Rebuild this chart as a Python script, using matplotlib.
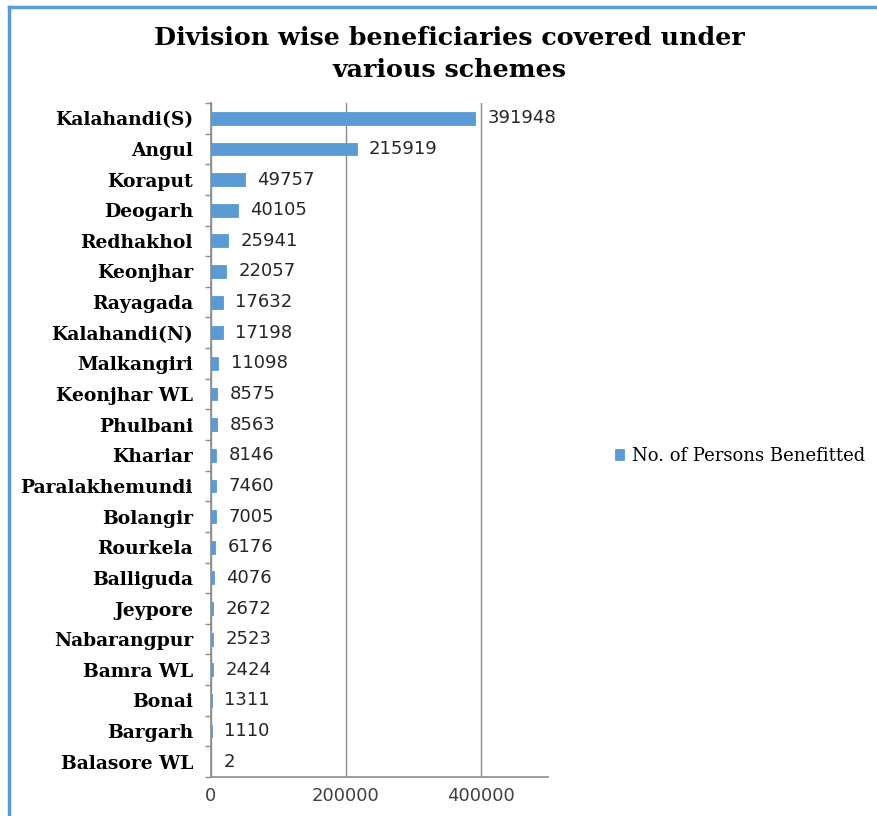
import matplotlib.pyplot as plt
from matplotlib.lines import Line2D
from matplotlib.ticker import FixedLocator

divisions = ["Kalahandi(S)", "Angul", "Koraput", "Deogarh", "Redhakhol", "Keonjhar",
             "Rayagada", "Kalahandi(N)", "Malkangiri", "Keonjhar WL", "Phulbani", "Khariar",
             "Paralakhemundi", "Bolangir", "Rourkela", "Balliguda", "Jeypore", "Nabarangpur",
             "Bamra WL", "Bonai", "Bargarh", "Balasore WL"]
persons = [391948, 215919, 49757, 40105, 25941, 22057, 17632, 17198, 11098, 8575, 8563,
           8146, 7460, 7005, 6176, 4076, 2672, 2523, 2424, 1311, 1110, 2]
x_ticks = [0, 200000, 400000]

bar_color = "#5B9BD5"
grid_color = "#8C8C8C"

fig = plt.figure(figsize=(8.77, 8.16), dpi=100)
ax = fig.add_axes([211 / 877, 1 - 777 / 816, 337 / 877, 674 / 816])

pos = list(range(len(divisions)))
bars = ax.barh(pos, persons, height=0.42, color=bar_color, edgecolor=bar_color, linewidth=0.6,
               label="No. of Persons Benefitted", zorder=3)
ax.set_ylim(len(divisions) - 0.5, -0.5)
ax.set_xlim(0, 500000)

for p, v in zip(pos, persons):
    ax.annotate(str(v), (v, p), xytext=(9, 0), textcoords="offset points",
                va="center", ha="left", fontsize=13, color="#262626", family="DejaVu Sans")

ax.set_yticks(pos)
ax.set_yticklabels(divisions, family="DejaVu Serif", fontweight="bold", fontsize=13.5)
ax.yaxis.set_minor_locator(FixedLocator([i - 0.5 for i in range(len(divisions) + 1)]))
ax.tick_params(axis="y", which="major", length=0, pad=13)
ax.tick_params(axis="y", which="minor", length=4, color=grid_color, width=1)

ax.set_xticks(x_ticks)
ax.set_xticklabels([str(t) for t in x_ticks], fontsize=13, color="#404040", family="DejaVu Sans")
ax.tick_params(axis="x", length=0, pad=7)
ax.xaxis.grid(True, color=grid_color, linewidth=1, zorder=0)

for s in ["top", "right"]:
    ax.spines[s].set_visible(False)
for s in ["left", "bottom"]:
    ax.spines[s].set_color(grid_color)
    ax.spines[s].set_linewidth(1.2)

fig.text(0.512, 1 - 54 / 816, "Division wise beneficiaries covered under\nvarious schemes",
         ha="center", va="center", fontsize=18.3, fontweight="bold", family="DejaVu Serif",
         linespacing=1.4)

fig.legend(handles=[bars], loc="center left", bbox_to_anchor=(599 / 877, 1 - 456 / 816),
           frameon=False, prop={"family": "DejaVu Serif", "size": 13},
           handlelength=0.5, handleheight=0.5, handletextpad=0.4)

# blue chart frame at top and left
fig.add_artist(Line2D([9 / 877, 1], [1 - 7 / 816, 1 - 7 / 816], color=bar_color, linewidth=2.5))
fig.add_artist(Line2D([9 / 877, 9 / 877], [0, 1 - 7 / 816], color=bar_color, linewidth=2.5))

fig.savefig("out.png", dpi=100)
